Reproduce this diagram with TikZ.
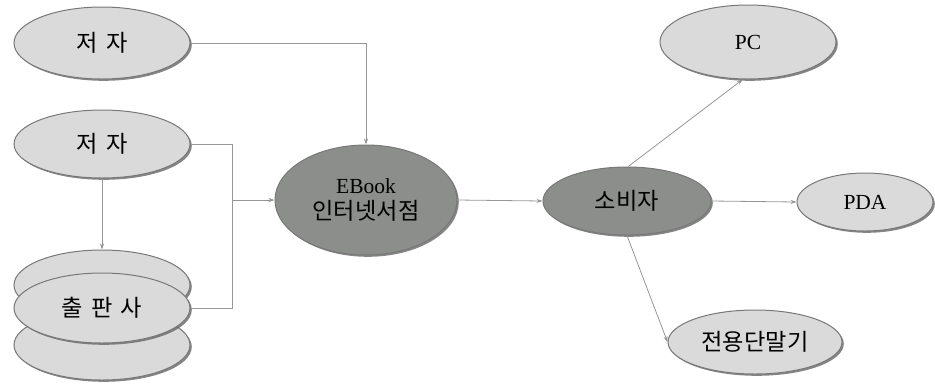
\documentclass[tikz,border=0pt]{standalone}
\usepackage{fontspec}
\setmainfont{Liberation Serif}
\newfontfamily\kr[Scale=1.08]{Noto Sans CJK KR}
\usetikzlibrary{shapes.geometric,shadows,arrows.meta}
\definecolor{lightfill}{RGB}{218,218,218}
\definecolor{darkfill}{RGB}{140,142,140}
\definecolor{rim}{RGB}{120,120,120}
\definecolor{linec}{RGB}{150,150,150}
\begin{document}
\begin{tikzpicture}[x=1pt,y=-1pt,
  base/.style={ellipse, draw=rim, line width=1pt, inner sep=0pt,
    font=\fontsize{21.5}{24}\selectfont,
    drop shadow={shadow xshift=1.8pt, shadow yshift=-1.8pt, fill=black!60, opacity=0.8}},
  light/.style={base, fill=lightfill},
  dark/.style={base, fill=darkfill},
  line/.style={draw=linec, line width=0.8pt},
  conn/.style={line, -{Stealth[length=6pt,width=4pt,fill=black!85]}}
]
\useasboundingbox (0,0) rectangle (935,384);
% left column
\node[light, minimum width=176pt, minimum height=72pt] (a1) at (102,43) {\kr 저\hspace{0.35em}자};
\node[light, minimum width=176pt, minimum height=68pt] (a2) at (102,144) {\kr 저\hspace{0.35em}자};
\node[light, minimum width=176pt, minimum height=70pt] (pubb) at (102,345) {};
\node[light, minimum width=176pt, minimum height=70pt] (pubt) at (102,285) {};
\node[light, minimum width=176pt, minimum height=70pt] (pub) at (102,308) {\kr 출\hspace{0.35em}판\hspace{0.35em}사};
% centre
\node[dark, minimum width=182pt, minimum height=110pt, align=center] (eb) at (366,200)
  {EBook\\[2pt]{\kr 인터넷서점}};
\node[dark, minimum width=168pt, minimum height=68pt] (cons) at (627,201) {\kr 소비자};
% right
\node[light, minimum width=176pt, minimum height=74pt] (pc) at (748,42) {PC};
\node[light, minimum width=136pt, minimum height=58pt] (pda) at (865,202) {PDA};
\node[light, minimum width=174pt, minimum height=64pt] (dev) at (755,342) {\kr 전용단말기};
% connectors
\coordinate (j) at (232,200);
\draw[conn] (a1.east) -| (eb.north);
\draw[line] (a2.east) -| (j);
\draw[line] (pub.east) -| (j);
\draw[conn] (j) -- (eb.west);
\draw[conn] (a2.south) -- (pubt.north);
\draw[conn] (eb.east) -- (cons.west);
\draw[conn] (cons.88) -- (pc.262);
\draw[conn] (cons.east) -- (pda.west);
\draw[conn] (cons.south) -- (dev.west);
\end{tikzpicture}
\end{document}
